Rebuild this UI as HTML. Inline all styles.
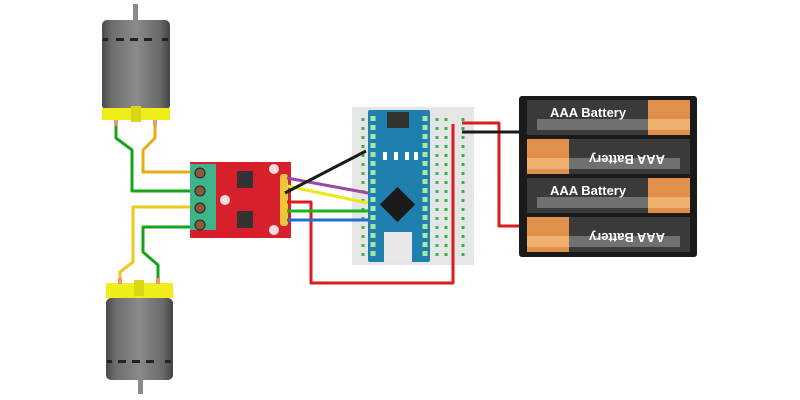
<!DOCTYPE html>
<html><head><meta charset="utf-8"><style>html,body{margin:0;padding:0;background:#fff}svg{display:block}</style></head>
<body>
<svg width="800" height="400" viewBox="0 0 800 400" xmlns="http://www.w3.org/2000/svg" font-family="Liberation Sans, sans-serif">
<defs>
<linearGradient id="mg" x1="0" x2="1" y1="0" y2="0">
<stop offset="0" stop-color="#4a4a4a"/><stop offset="0.15" stop-color="#6e6e6e"/><stop offset="0.5" stop-color="#8a8a8a"/><stop offset="0.85" stop-color="#6a6a6a"/><stop offset="1" stop-color="#444"/>
</linearGradient>
</defs>
<rect x="133" y="4" width="5" height="20" fill="#8a8a8a"/>
<rect x="102" y="20" width="68" height="90" rx="5" fill="url(#mg)"/>
<g fill="#222"><rect x="116" y="38" width="8" height="3"/><rect x="130" y="38" width="8" height="3"/><rect x="144" y="38" width="8" height="3"/><rect x="103" y="38" width="5" height="3"/><rect x="162" y="38" width="6" height="3"/></g>
<rect x="102" y="108" width="68" height="12" fill="#f0ee1a"/>
<rect x="131" y="106" width="10" height="16" fill="#d8d615"/>
<rect x="106" y="283" width="67" height="15" fill="#f0ee1a"/>
<rect x="134" y="280" width="10" height="16" fill="#d8d615"/>
<rect x="106" y="298" width="67" height="82" rx="5" fill="url(#mg)"/>
<g fill="#222"><rect x="118" y="360" width="8" height="3"/><rect x="132" y="360" width="8" height="3"/><rect x="146" y="360" width="8" height="3"/><rect x="107" y="360" width="5" height="3"/><rect x="165" y="360" width="6" height="3"/></g>
<rect x="138" y="380" width="5" height="14" fill="#8a8a8a"/>
<g fill="none" stroke-width="3" stroke-linejoin="round">
<path d="M116 122 L116 138 L132 150 L132 191 L192 191" stroke="#16a31a"/>
<path d="M155 122 L155 138 L143 150 L143 172 L192 172" stroke="#e6ac12"/>
<path d="M192 207 L133 207 L133 262 L120 272 L120 283" stroke="#f0c818"/>
<path d="M192 227 L143 227 L143 252 L158 265 L158 283" stroke="#16a31a"/>
</g>
<g fill="#e9987a"><rect x="114" y="120" width="4" height="6"/><rect x="153" y="120" width="4" height="6"/><rect x="118" y="278" width="4" height="6"/><rect x="156" y="278" width="4" height="6"/></g>
<rect x="190" y="162" width="101" height="76" fill="#d8202c"/>
<rect x="190" y="164" width="26" height="66" fill="#3fb38a"/>
<g fill="#8b5a3a" stroke="#222" stroke-width="1"><circle cx="200" cy="173" r="5"/><circle cx="200" cy="191" r="5"/><circle cx="200" cy="208" r="5"/><circle cx="200" cy="225" r="5"/></g>
<rect x="237" y="171" width="16" height="17" fill="#333"/>
<rect x="237" y="211" width="16" height="17" fill="#333"/>
<circle cx="274" cy="169" r="5" fill="#f4dede"/><circle cx="274" cy="230" r="5" fill="#f4dede"/><circle cx="225" cy="200" r="5" fill="#f4dede"/>
<g fill="#f2c43a"><rect x="280" y="174" width="8" height="52" rx="3"/></g>
<rect x="352" y="107" width="122" height="158" fill="#e6e6e6"/>
<g stroke="#2eb84a" stroke-width="3" stroke-dasharray="3 6">
<line x1="363" y1="118" x2="363" y2="258"/><line x1="437" y1="118" x2="437" y2="258"/><line x1="446" y1="118" x2="446" y2="258"/><line x1="463" y1="118" x2="463" y2="258"/>
</g>
<rect x="368" y="110" width="62" height="152" rx="2" fill="#1f7fae"/>
<g stroke="#a8e8a0" stroke-width="5" stroke-dasharray="5 4"><line x1="373" y1="116" x2="373" y2="256"/><line x1="425" y1="116" x2="425" y2="256"/></g>
<rect x="387" y="112" width="22" height="16" fill="#333"/>
<g fill="#fff"><rect x="383" y="152" width="4" height="8"/><rect x="394" y="152" width="4" height="8"/><rect x="405" y="152" width="4" height="8"/><rect x="414" y="152" width="4" height="8"/></g>
<rect x="385" y="192" width="25" height="25" fill="#1b1b1b" transform="rotate(45 397.5 204.5)"/>
<rect x="384" y="232" width="28" height="30" fill="#e8e8e8"/>
<g fill="none" stroke-width="3" stroke-linejoin="round">
<path d="M287 178 L368 193" stroke="#9b4aa0"/>
<path d="M287 186 L368 203" stroke="#e8e81a"/>
<path d="M285 193 L366 151" stroke="#1a1a1a"/>
<path d="M287 202 L311 202 L311 283 L453 283 L453 124" stroke="#d81e1e"/>
<path d="M287 211 L368 211" stroke="#16b51a"/>
<path d="M287 220 L368 220" stroke="#1f6fd0"/>
<path d="M462 123 L499 123 L499 226 L530 226" stroke="#d81e1e"/>
<path d="M462 132 L530 132" stroke="#1a1a1a"/>
</g>
<rect x="519" y="96" width="178" height="161" rx="3" fill="#1a1a1a"/>
<g font-weight="bold" font-size="13" fill="#fff">
<rect x="527" y="100" width="124" height="35" fill="#3a3a3a"/><rect x="537" y="119" width="114" height="11" fill="#707070"/><rect x="648" y="100" width="42" height="35" fill="#e0904a"/><rect x="648" y="119" width="42" height="11" fill="#f0b070"/>
<text x="550" y="117">AAA Battery</text>
<rect x="565" y="139" width="125" height="35" fill="#3a3a3a"/><rect x="565" y="158" width="115" height="11" fill="#707070"/><rect x="527" y="139" width="42" height="35" fill="#e0904a"/><rect x="527" y="158" width="42" height="11" fill="#f0b070"/>
<text text-anchor="middle" transform="translate(627,155) rotate(180)">AAA Battery</text>
<rect x="527" y="178" width="124" height="35" fill="#3a3a3a"/><rect x="537" y="197" width="114" height="11" fill="#707070"/><rect x="648" y="178" width="42" height="35" fill="#e0904a"/><rect x="648" y="197" width="42" height="11" fill="#f0b070"/>
<text x="550" y="195">AAA Battery</text>
<rect x="565" y="217" width="125" height="35" fill="#3a3a3a"/><rect x="565" y="236" width="115" height="11" fill="#707070"/><rect x="527" y="217" width="42" height="35" fill="#e0904a"/><rect x="527" y="236" width="42" height="11" fill="#f0b070"/>
<text text-anchor="middle" transform="translate(627,233) rotate(180)">AAA Battery</text>
</g>
</svg>
</body></html>
